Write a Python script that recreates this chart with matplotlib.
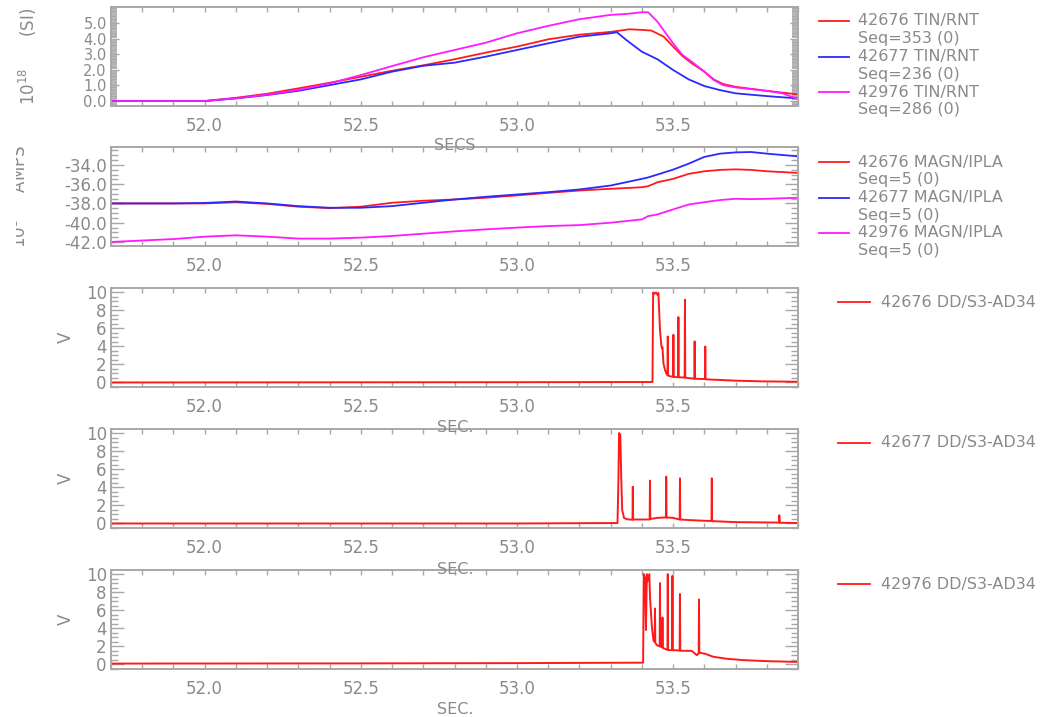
import matplotlib
matplotlib.use('Agg')
import matplotlib.pyplot as plt
from matplotlib.lines import Line2D
from matplotlib.ticker import MultipleLocator, FixedLocator, FormatStrFormatter
from matplotlib.transforms import Bbox, TransformedBbox

# ---- TIN/RNT (10^18 SI) ----
t_tin_42676 = [51.7, 52.0, 52.1, 52.2, 52.3, 52.4, 52.5, 52.6, 52.7, 52.8, 52.9, 53.0, 53.1, 53.2, 53.3,
               53.36, 53.4, 53.43, 53.47, 53.5, 53.53, 53.56, 53.6, 53.63, 53.66, 53.7, 53.8, 53.9]
tin_42676 = [-0.03, -0.03, 0.18, 0.44, 0.79, 1.15, 1.54, 1.93, 2.28, 2.67, 3.10, 3.49, 3.96, 4.26, 4.44,
             4.61, 4.57, 4.53, 4.13, 3.49, 2.88, 2.41, 1.87, 1.37, 1.07, 0.89, 0.63, 0.40]
t_tin_42677 = [51.7, 52.0, 52.1, 52.2, 52.3, 52.4, 52.5, 52.6, 52.7, 52.8, 52.9, 53.0, 53.1, 53.2, 53.3,
               53.32, 53.35, 53.4, 53.45, 53.5, 53.55, 53.6, 53.65, 53.7, 53.8, 53.9]
tin_42677 = [-0.03, -0.03, 0.14, 0.36, 0.63, 1.00, 1.37, 1.87, 2.25, 2.45, 2.84, 3.27, 3.70, 4.13, 4.35,
             4.42, 3.92, 3.16, 2.67, 1.98, 1.37, 0.94, 0.68, 0.47, 0.29, 0.14]
t_tin_42976 = [51.7, 52.0, 52.1, 52.2, 52.3, 52.4, 52.5, 52.6, 52.7, 52.8, 52.9, 53.0, 53.1, 53.2, 53.3,
               53.35, 53.4, 53.42, 53.45, 53.5, 53.53, 53.56, 53.6, 53.63, 53.66, 53.7, 53.8, 53.85, 53.9]
tin_42976 = [-0.03, -0.03, 0.15, 0.38, 0.69, 1.11, 1.65, 2.23, 2.80, 3.27, 3.74, 4.35, 4.83, 5.26, 5.54,
             5.60, 5.71, 5.71, 5.10, 3.70, 2.95, 2.51, 1.87, 1.33, 1.00, 0.85, 0.63, 0.47, 0.10]

# ---- MAGN/IPLA (10^3 AMPS) ----
t_ipla = [51.7, 51.9, 52.0, 52.1, 52.2, 52.3, 52.4, 52.5, 52.6, 52.7, 52.8, 52.9, 53.0, 53.1, 53.2, 53.3,
          53.4, 53.42, 53.45, 53.5, 53.55, 53.6, 53.65, 53.7, 53.75, 53.8, 53.9]
ipla_42676 = [-38.0, -38.0, -38.0, -37.88, -38.05, -38.34, -38.49, -38.34, -37.93, -37.72, -37.59, -37.41,
              -37.17, -36.90, -36.66, -36.48, -36.32, -36.21, -35.80, -35.45, -34.93, -34.66, -34.52,
              -34.46, -34.52, -34.66, -34.83]
ipla_42677 = [-38.0, -38.0, -37.95, -37.80, -38.0, -38.28, -38.45, -38.45, -38.28, -37.93, -37.59, -37.31,
              -37.07, -36.83, -36.55, -36.14, -35.45, -35.30, -35.00, -34.49, -33.87, -33.17, -32.83,
              -32.70, -32.66, -32.83, -33.11]
ipla_42976 = [-42.0, -41.70, -41.45, -41.31, -41.45, -41.65, -41.65, -41.55, -41.38, -41.14, -40.90, -40.69,
              -40.51, -40.35, -40.25, -40.0, -39.66, -39.32, -39.14, -38.62, -38.11, -37.87, -37.65,
              -37.52, -37.55, -37.52, -37.41]

# ---- DD/S3-AD34 (V) ----
t_dd_42676 = [51.7, 52.5, 53.0, 53.434, 53.436, 53.44, 53.445, 53.45, 53.453, 53.458, 53.462, 53.464,
              53.466, 53.469, 53.474, 53.478, 53.482, 53.483, 53.484, 53.487, 53.5, 53.501, 53.502,
              53.505, 53.516, 53.517, 53.518, 53.52, 53.537, 53.538, 53.539, 53.545, 53.568, 53.569,
              53.570, 53.58, 53.602, 53.603, 53.604, 53.62, 53.651, 53.7, 53.789, 53.9]
dd_42676 = [0.0, 0.02, 0.03, 0.05, 9.96, 9.8, 9.96, 9.7, 9.9, 5.83, 4.2, 3.8, 3.9, 2.14, 1.4, 1.04, 0.8,
            5.09, 0.78, 0.72, 0.62, 5.28, 0.62, 0.60, 0.58, 7.23, 0.58, 0.57, 0.55, 9.15, 0.55, 0.50,
            0.42, 4.54, 0.42, 0.40, 0.38, 3.98, 0.36, 0.32, 0.28, 0.20, 0.12, 0.08]
t_dd_42677 = [51.7, 52.5, 53.0, 53.322, 53.325, 53.327, 53.331, 53.334, 53.337, 53.343, 53.355, 53.370,
              53.371, 53.372, 53.39, 53.425, 53.426, 53.427, 53.45, 53.477, 53.478, 53.479, 53.5,
              53.521, 53.522, 53.523, 53.55, 53.6, 53.623, 53.624, 53.625, 53.7, 53.839, 53.84,
              53.842, 53.9]
dd_42677 = [0.0, 0.0, 0.0, 0.05, 5.0, 10.0, 9.8, 5.0, 1.5, 0.6, 0.45, 0.42, 4.07, 0.44, 0.44, 0.44, 4.74,
            0.5, 0.62, 0.67, 5.18, 0.67, 0.62, 0.44, 5.0, 0.44, 0.38, 0.30, 0.28, 5.0, 0.26, 0.15, 0.1,
            0.92, 0.08, 0.05]
t_dd_42976 = [51.7, 52.5, 53.0, 53.404, 53.406, 53.41, 53.413, 53.416, 53.418, 53.424, 53.426, 53.432,
              53.437, 53.441, 53.442, 53.443, 53.448, 53.457, 53.458, 53.459, 53.465, 53.466, 53.467,
              53.471, 53.482, 53.483, 53.484, 53.497, 53.498, 53.499, 53.52, 53.521, 53.522, 53.523,
              53.56, 53.576, 53.582, 53.583, 53.584, 53.603, 53.629, 53.672, 53.725, 53.8, 53.9]
dd_42976 = [0.1, 0.12, 0.15, 0.2, 10.0, 9.6, 3.81, 10.0, 9.2, 10.0, 7.5, 4.18, 2.7, 2.5, 6.2, 2.4, 2.14,
            2.0, 9.0, 2.0, 1.9, 5.2, 1.85, 1.78, 1.62, 10.0, 1.60, 1.58, 9.8, 1.58, 1.55, 1.55, 7.8,
            1.52, 1.5, 1.03, 1.25, 7.2, 1.3, 1.18, 0.85, 0.63, 0.48, 0.37, 0.28]

RED = '#ff1a1a'
BLUE = '#2a2aff'
MAGENTA = '#ff1aff'
GREY = '#8a8a8a'
FRAME = '#a8a8a8'
TICKSIZE = 12
TEXTSIZE = 11.5

W, H = 1054, 717
plt.rcParams['font.family'] = 'DejaVu Sans'
fig = plt.figure(figsize=(W / 100, H / 100), dpi=100)


def fx(px):
    return px / W


def fy(py):
    return 1 - py / H


def make_axes(top, bottom):
    ax = fig.add_axes([fx(111), fy(bottom), fx(798) - fx(111), fy(top) - fy(bottom)])
    ax.set_xlim(51.7, 53.9)
    ax.xaxis.set_major_locator(MultipleLocator(0.5))
    ax.xaxis.set_minor_locator(MultipleLocator(0.1))
    ax.xaxis.set_major_formatter(FormatStrFormatter('%.1f'))
    ax.tick_params(axis='x', which='both', direction='in', top=True, bottom=True,
                   length=3.5, width=1, color=FRAME, labelcolor=GREY, labelsize=TICKSIZE, pad=8)
    ax.tick_params(axis='y', which='both', direction='in', left=True, right=True,
                   width=1, color=FRAME, labelcolor=GREY, labelsize=TICKSIZE, pad=3)
    ax.tick_params(axis='y', which='major', length=9.5)
    ax.tick_params(axis='y', which='minor', length=5)
    for s in ax.spines.values():
        s.set_color(FRAME)
        s.set_linewidth(1.4)
    return ax


def legend_entry(px0, px1, ptx, py, color, lines):
    fig.add_artist(Line2D([fx(px0), fx(px1)], [fy(py), fy(py)], color=color, lw=1.3))
    for i, s in enumerate(lines):
        fig.text(fx(ptx), fy(py + i * 17.6), s, color=GREY, fontsize=TEXTSIZE, va='center', ha='left')


# panel 1: density
ax1 = make_axes(7, 106)
ax1.plot(t_tin_42676, tin_42676, color=RED, lw=1.3)
ax1.plot(t_tin_42677, tin_42677, color=BLUE, lw=1.3)
ax1.plot(t_tin_42976, tin_42976, color=MAGENTA, lw=1.3)
ax1.set_ylim(-0.35, 6.05)
ax1.yaxis.set_major_locator(FixedLocator([0, 1, 2, 3, 4, 5]))
ax1.yaxis.set_minor_locator(MultipleLocator(0.1))
ax1.yaxis.set_major_formatter(FormatStrFormatter('%.1f'))
ax1.tick_params(axis='y', which='minor', length=4.5, width=1.2)
ax1.tick_params(axis='y', which='major', length=5.5, labelsize=10.5)
fig.text(fx(28), fy(56), '10$^{18}$      (SI)', rotation=90, color=GREY, fontsize=TICKSIZE,
         ha='center', va='center')
fig.text(fx(455), fy(146), 'SECS', color=GREY, fontsize=TEXTSIZE, ha='center', va='center')
legend_entry(819, 849, 858, 21, RED, ['42676 TIN/RNT', 'Seq=353 (0)'])
legend_entry(819, 849, 858, 56.5, BLUE, ['42677 TIN/RNT', 'Seq=236 (0)'])
legend_entry(819, 849, 858, 92, MAGENTA, ['42976 TIN/RNT', 'Seq=286 (0)'])

# panel 2: plasma current
ax2 = make_axes(147, 246)
ax2.plot(t_ipla, ipla_42676, color=RED, lw=1.3)
ax2.plot(t_ipla, ipla_42677, color=BLUE, lw=1.3)
ax2.plot(t_ipla, ipla_42976, color=MAGENTA, lw=1.3)
ax2.set_ylim(-42.42, -32.14)
ax2.yaxis.set_major_locator(MultipleLocator(2.0))
ax2.yaxis.set_minor_locator(MultipleLocator(0.5))
ax2.yaxis.set_major_formatter(FormatStrFormatter('%.1f'))
amps = fig.text(fx(20), fy(196), '10$^3$     AMPS', rotation=90, color=GREY, fontsize=TICKSIZE,
                ha='center', va='center', clip_on=True)
amps.set_clip_box(TransformedBbox(Bbox([[fx(16), fy(250)], [fx(40), fy(140)]]), fig.transFigure))
legend_entry(819, 849, 858, 162, RED, ['42676 MAGN/IPLA', 'Seq=5 (0)'])
legend_entry(819, 849, 858, 197.5, BLUE, ['42677 MAGN/IPLA', 'Seq=5 (0)'])
legend_entry(819, 849, 858, 233, MAGENTA, ['42976 MAGN/IPLA', 'Seq=5 (0)'])

# panels 3-5: DD signals
dd_panels = [
    (288, 387, t_dd_42676, dd_42676, '42676 DD/S3-AD34'),
    (429, 528, t_dd_42677, dd_42677, '42677 DD/S3-AD34'),
    (570, 669, t_dd_42976, dd_42976, '42976 DD/S3-AD34'),
]
for top, bottom, t, v, name in dd_panels:
    ax = make_axes(top, bottom)
    ax.plot(t, v, color=RED, lw=1.4)
    ax.set_ylim(-0.5, 10.45)
    ax.yaxis.set_major_locator(MultipleLocator(2))
    ax.yaxis.set_minor_locator(MultipleLocator(0.5))
    ax.yaxis.set_major_formatter(FormatStrFormatter('%d'))
    fig.text(fx(66), fy((top + bottom) / 2), 'V', rotation=90, color=GREY, fontsize=TICKSIZE,
             ha='center', va='center')
    fig.text(fx(455), fy(bottom + 41), 'SEC.', color=GREY, fontsize=TEXTSIZE, ha='center', va='center')
    legend_entry(838, 870, 881, top + 14, RED, [name])

fig.savefig('out.png', dpi=100)
